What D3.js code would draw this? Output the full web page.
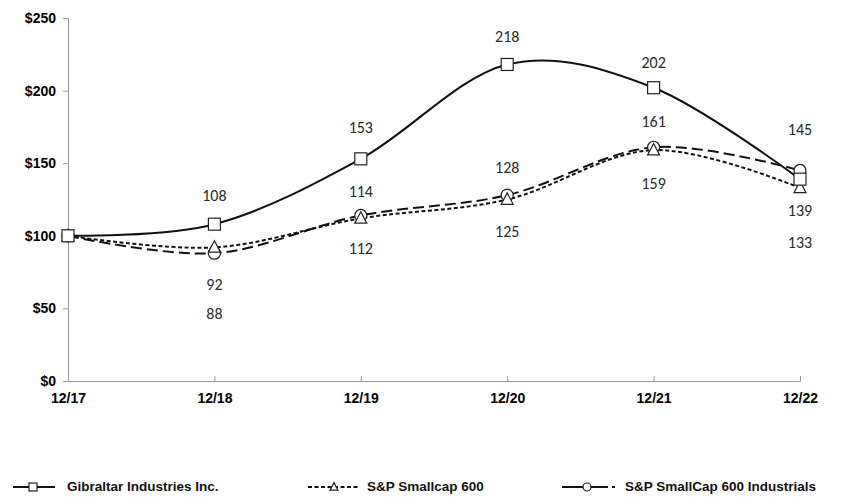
<!DOCTYPE html>
<html><head><meta charset="utf-8">
<script src="https://cdn.jsdelivr.net/npm/d3@7"></script>
<style>body{margin:0;background:#fff}svg{display:block}</style>
</head><body>
<svg id="c" width="860" height="497"></svg>
<script>
const categories = ["12/17","12/18","12/19","12/20","12/21","12/22"];
const gibraltar = [100,108,153,218,202,139];
const smallcap = [100,92,112,125,159,133];
const industrials = [100,88,114,128,161,145];
const yTicks = [0,50,100,150,200,250];
// label offsets (pixels, relative to point) per series per category
const labelDy = {
  gib: [null,-27,-30,-26.5,-24,33],
  sc: [null,38.5,31.5,33.5,35,56],
  ind: [null,62,-22.5,-26,-24,-39.5]
};

const svg = d3.select("#c");
const x = d3.scalePoint().domain(categories).range([68,800]);
const y = d3.scaleLinear().domain([0,250]).range([381,18]);

const axisFont = "'Liberation Sans', Arial, sans-serif";

// y axis
const ya = svg.append("g").attr("transform","translate(68,0)")
  .call(d3.axisLeft(y).tickValues(yTicks).tickSize(5).tickFormat(d=>"$"+d));
ya.select(".domain").attr("stroke","#999");
ya.selectAll(".tick line").attr("stroke","#999");
ya.selectAll("text").attr("font-family",axisFont).attr("font-weight","bold").attr("font-size",14).attr("fill","#000").attr("x",-12);

// x axis
const xa = svg.append("g").attr("transform","translate(0,381)")
  .call(d3.axisBottom(x).tickSize(-5).tickSizeOuter(-5));
xa.select(".domain").attr("stroke","#999");
xa.selectAll(".tick line").attr("stroke","#999");
xa.selectAll("text").attr("font-family",axisFont).attr("font-weight","bold").attr("font-size",14).attr("fill","#000").attr("y",12);

const series = [
  {key:"gib", name:"Gibraltar Industries Inc.", data:gibraltar, dash:null, w:2, marker:"square"},
  {key:"sc", name:"S&P Smallcap 600", data:smallcap, dash:"4,2.5", w:2, marker:"triangle"},
  {key:"ind", name:"S&P SmallCap 600 Industrials", data:industrials, dash:"11,5", w:2, marker:"circle"}
];

const line = d3.line().x((d,i)=>x(categories[i])).y(d=>y(d)).curve(d3.curveCardinal.tension(0));

function drawMarker(g, type, cx, cy, s) {
  if (type==="square") {
    g.append("rect").attr("x",cx-s).attr("y",cy-s).attr("width",2*s).attr("height",2*s)
      .attr("fill","#fff").attr("stroke","#222").attr("stroke-width",1.2);
  } else if (type==="triangle") {
    g.append("path").attr("d",`M${cx},${cy-s*1.1}L${cx+s},${cy+s*0.8}L${cx-s},${cy+s*0.8}Z`)
      .attr("fill","#fff").attr("stroke","#222").attr("stroke-width",1.2);
  } else {
    g.append("circle").attr("cx",cx).attr("cy",cy).attr("r",s)
      .attr("fill","#fff").attr("stroke","#222").attr("stroke-width",1.2);
  }
}

// lines
const order = [series[1], series[2], series[0]];
order.forEach(s=>{
  svg.append("path").datum(s.data).attr("d",line).attr("fill","none")
    .attr("stroke","#111").attr("stroke-width",s.w).attr("stroke-dasharray",s.dash);
});
// markers
[series[2], series[1], series[0]].forEach(s=>{
  const g = svg.append("g");
  s.data.forEach((v,i)=>drawMarker(g,s.marker,x(categories[i]),y(v),6));
});

// labels
const lblFont = "Carlito, 'Open Sans', 'Noto Sans', sans-serif";
series.forEach(s=>{
  s.data.forEach((v,i)=>{
    const dy = labelDy[s.key][i];
    if (dy===null) return;
    svg.append("text").attr("x",x(categories[i])).attr("y",y(v)+dy)
      .attr("text-anchor","middle").attr("dominant-baseline","middle")
      .attr("font-family",lblFont).attr("font-size",16).attr("fill","#2a2a2a").text(v);
  });
});

// legend
const legY = 487;
const leg = [
  {s:series[0], x1:13, x2:55, mx:33, tx:67},
  {s:series[1], x1:308, x2:360, mx:334, tx:367},
  {s:series[2], x1:562, x2:616, mx:587, tx:625}
];
leg.forEach(l=>{
  const g = svg.append("g");
  if (l.s.key==="ind") {
    g.append("line").attr("x1",l.x1).attr("x2",l.x2-8).attr("y1",legY).attr("y2",legY).attr("stroke","#111").attr("stroke-width",2);
    g.append("line").attr("x1",l.x2-4).attr("x2",l.x2-1).attr("y1",legY).attr("y2",legY).attr("stroke","#111").attr("stroke-width",2);
  } else {
    g.append("line").attr("x1",l.x1).attr("x2",l.x2).attr("y1",legY).attr("y2",legY)
      .attr("stroke","#111").attr("stroke-width",2).attr("stroke-dasharray",l.s.dash?"4,2.5":null);
  }
  drawMarker(g,l.s.marker,l.mx,legY,4);
  g.append("text").attr("x",l.tx).attr("y",legY).attr("dominant-baseline","middle")
    .attr("font-family",axisFont).attr("font-weight","bold").attr("font-size",13.5).attr("fill","#111").text(l.s.name);
});
</script>
</body></html>
